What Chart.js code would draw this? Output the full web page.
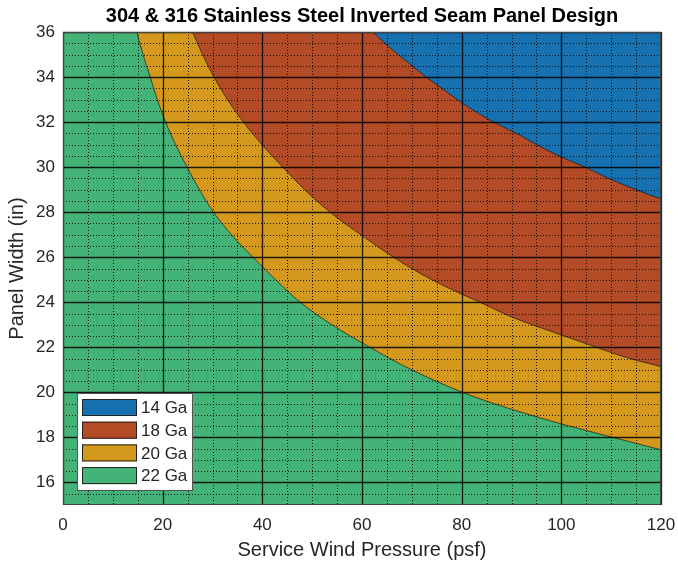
<!DOCTYPE html>
<html>
<head>
<meta charset="utf-8">
<script src="https://cdn.jsdelivr.net/npm/chart.js@4.4.1/dist/chart.umd.min.js"></script>
<style>
  html, body { margin: 0; padding: 0; background: #fff; }
  #wrap { width: 678px; height: 565px; }
</style>
</head>
<body>
<div id="wrap"><canvas id="panelChart"></canvas></div>
<script>
// gauge names, top of the legend first
const gauges = ['14 Ga', '18 Ga', '20 Ga', '22 Ga'];
const gaugeColors = ['#1770b0', '#b44b27', '#d4991c', '#44b377'];

// boundary 18 Ga -> 14 Ga
const pressure14 = [62.2, 65, 68, 72.85, 76, 80, 86.4, 91.7, 95, 100, 104.8, 110, 115, 120];
const width14 = [36.0, 35.42, 34.87, 34.0, 33.5, 32.86, 32.0, 31.42, 31.0, 30.45, 30.0, 29.45, 29.0, 28.59];

// boundary 20 Ga -> 18 Ga
const pressure18 = [26, 28, 30.3, 33, 36.2, 40, 44.1, 48.5, 53.6, 60, 66.3, 73, 80, 83.7, 90, 100, 105.8, 112, 120];
const width18 = [36.0, 35.0, 34.0, 33.0, 32.0, 30.98, 30.0, 29.0, 28.0, 26.96, 26.0, 25.12, 24.36, 24.0, 23.35, 22.55, 22.1, 21.62, 21.14];

// boundary 22 Ga -> 20 Ga
const pressure20 = [14.8, 16, 17.5, 19, 20.6, 22.5, 24.9, 27.5, 30.2, 34, 38.1, 40, 43, 47.6, 54, 61.6, 70, 80.2, 90, 100, 110.4, 120];
const width20 = [36.0, 35.05, 34.0, 32.95, 32.0, 31.05, 30.0, 28.95, 28.0, 26.95, 26.0, 25.58, 24.93, 24.0, 23.0, 22.0, 21.0, 20.0, 19.25, 18.6, 18.0, 17.45];

// 22 Ga covers everything below
const pressure22 = [0, 120];
const width22 = [15, 15];

const xTicks = [0, 20, 40, 60, 80, 100, 120];
const yTicks = [16, 18, 20, 22, 24, 26, 28, 30, 32, 34, 36];

function toPoints(xs, ys) {
    return xs.map((x, i) => ({ x: x, y: ys[i] }));
}

const FONT = '"Liberation Sans", Arial, Helvetica, sans-serif';
const TXT = '#262626';

// grid drawn on top of the filled areas (matlab "layer top"), then box and legend
const topGrid = {
    id: 'topGrid',
    afterDatasetsDraw(chart) {
        const ctx = chart.ctx;
        const a = chart.chartArea;
        const xs = chart.scales.x, ys = chart.scales.y;
        const vline = px => { ctx.beginPath(); ctx.moveTo(px, a.top); ctx.lineTo(px, a.bottom); ctx.stroke(); };
        const hline = py => { ctx.beginPath(); ctx.moveTo(a.left, py); ctx.lineTo(a.right, py); ctx.stroke(); };
        ctx.save();
        // minor, dotted
        ctx.strokeStyle = 'rgba(0,0,0,0.85)';
        ctx.lineWidth = 1;
        ctx.setLineDash([1, 2]);
        for (let v = 5; v < 120; v += 5) {
            if (v % 20 === 0) continue;
            vline(Math.round(xs.getPixelForValue(v)) + 0.5);
        }
        for (let v = 15.5; v < 36; v += 0.5) {
            if (v % 2 === 0) continue;
            hline(Math.round(ys.getPixelForValue(v)) + 0.5);
        }
        // major, solid
        ctx.setLineDash([]);
        ctx.strokeStyle = 'rgba(0,0,0,0.85)';
        ctx.lineWidth = 1.3;
        xTicks.forEach(v => vline(Math.round(xs.getPixelForValue(v)) + 0.5));
        yTicks.forEach(v => hline(Math.round(ys.getPixelForValue(v)) + 0.5));
        ctx.restore();
    },
    afterDraw(chart) {
        const ctx = chart.ctx;
        const a = chart.chartArea;
        ctx.save();
        ctx.strokeStyle = '#444';
        ctx.lineWidth = 1;
        ctx.strokeRect(a.left + 0.5, a.top + 0.5, a.right - a.left - 1, a.bottom - a.top - 1);

        // legend, lower left inside the axes
        const bx = a.left + 14, bw = 115, bh = 97;
        const by = a.bottom - 15 - bh;
        ctx.fillStyle = '#fff';
        ctx.fillRect(bx, by, bw, bh);
        ctx.strokeStyle = '#555';
        ctx.strokeRect(bx + 0.5, by + 0.5, bw, bh);
        ctx.font = '17px ' + FONT;
        ctx.textBaseline = 'middle';
        ctx.textAlign = 'left';
        chart.data.datasets.forEach((ds, i) => {
            const cy = by + 14.5 + i * 22.7;
            ctx.fillStyle = ds.backgroundColor;
            ctx.fillRect(bx + 5, cy - 8.5, 55, 17);
            ctx.strokeStyle = '#222';
            ctx.strokeRect(bx + 5.5, cy - 8, 54, 16);
            ctx.fillStyle = TXT;
            ctx.fillText(ds.label, bx + 64, cy + 1);
        });
        ctx.restore();
    }
};

function buildChart() {
    const ctx = document.getElementById('panelChart').getContext('2d');
    const edge = { borderColor: 'rgba(20,20,20,0.85)', borderWidth: 0.8, pointRadius: 0, cubicInterpolationMode: 'monotone', fill: 'end' };

    new Chart(ctx, {
        type: 'line',
        data: {
            datasets: [
                Object.assign({ label: gauges[0], data: toPoints(pressure14, width14), backgroundColor: gaugeColors[0] }, edge),
                Object.assign({ label: gauges[1], data: toPoints(pressure18, width18), backgroundColor: gaugeColors[1] }, edge),
                Object.assign({ label: gauges[2], data: toPoints(pressure20, width20), backgroundColor: gaugeColors[2] }, edge),
                Object.assign({ label: gauges[3], data: toPoints(pressure22, width22), backgroundColor: gaugeColors[3] }, edge, { borderWidth: 0 })
            ]
        },
        options: {
            responsive: true,
            maintainAspectRatio: false,
            animation: false,
            layout: { padding: { left: 0, right: 17, top: 0, bottom: 0 } },
            plugins: {
                legend: { display: false },
                tooltip: { enabled: false },
                title: {
                    display: true,
                    fullSize: false,
                    text: '304 & 316 Stainless Steel Inverted Seam Panel Design',
                    color: '#000',
                    font: { family: FONT, size: 20, weight: 'bold', lineHeight: 1.2 },
                    padding: { top: 4, bottom: 4 }
                }
            },
            scales: {
                x: {
                    type: 'linear',
                    min: 0,
                    max: 120,
                    afterBuildTicks: s => { s.ticks = xTicks.map(v => ({ value: v })); },
                    afterFit: s => { s.height = 60; s.paddingLeft = 0; s.paddingRight = 0; },
                    ticks: { color: TXT, padding: 10, font: { family: FONT, size: 17 } },
                    grid: { display: false, drawTicks: false },
                    border: { display: false },
                    title: {
                        display: true,
                        text: 'Service Wind Pressure (psf)',
                        color: TXT,
                        font: { family: FONT, size: 20 },
                        padding: { top: 0, bottom: 3 }
                    }
                },
                y: {
                    type: 'linear',
                    min: 15,
                    max: 36,
                    afterBuildTicks: s => { s.ticks = yTicks.map(v => ({ value: v })); },
                    afterFit: s => { s.width = 63; },
                    ticks: { color: TXT, padding: 8, font: { family: FONT, size: 17 } },
                    grid: { display: false, drawTicks: false },
                    border: { display: false },
                    title: {
                        display: true,
                        text: 'Panel Width (in)',
                        color: TXT,
                        font: { family: FONT, size: 20 },
                        padding: { top: 5, bottom: 0 }
                    }
                }
            }
        },
        plugins: [topGrid]
    });
}

buildChart();
</script>
</body>
</html>
